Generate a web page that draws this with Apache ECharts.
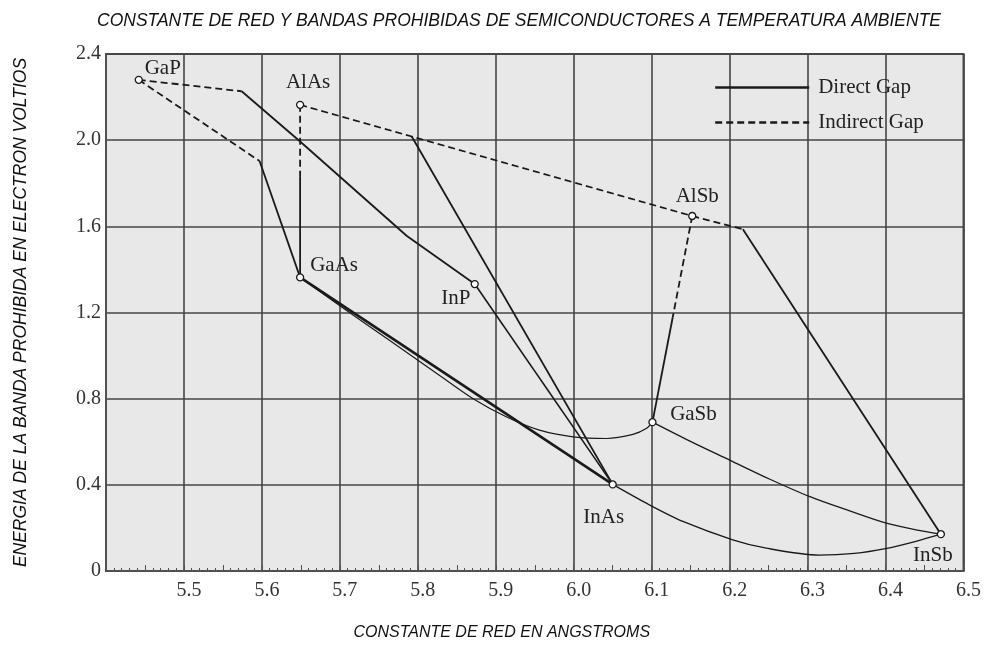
<!DOCTYPE html>
<html>
<head>
<meta charset="utf-8">
<script src="https://cdn.jsdelivr.net/npm/echarts@6/dist/echarts.min.js"></script>
<style>
  html, body { margin: 0; padding: 0; background: #fff; }
  #chart { width: 984px; height: 646px; }
</style>
</head>
<body>
<div id="chart"></div>
<script>
// Binary compounds: lattice constant (Å) and band gap (eV)
const compounds = ['GaP', 'AlAs', 'GaAs', 'InP', 'AlSb', 'GaSb', 'InAs', 'InSb'];
const latticeA  = [5.442, 5.649, 5.649, 5.873, 6.152, 6.101, 6.050, 6.471];
const gapEv     = [2.280, 2.164, 1.363, 1.332, 1.648, 0.691, 0.402, 0.171];

// Ternary alloy paths [lattice, gap]
const gapInP_ind   = [[5.442, 2.280], [5.574, 2.227]];
const gapInP_dir   = [[5.574, 2.227], [5.649, 1.994], [5.786, 1.555], [5.873, 1.332]];
const gapGaAs_ind  = [[5.442, 2.280], [5.597, 1.903]];
const gapGaAs_dir  = [[5.597, 1.903], [5.649, 1.363]];
const alasGaAs_ind = [[5.649, 2.164], [5.649, 1.833]];
const alasGaAs_dir = [[5.649, 1.833], [5.649, 1.363]];
const alasAlSb_ind = [[5.649, 2.164], [6.152, 1.648]];
const alasInAs_dir = [[5.792, 2.018], [6.050, 0.402]];
const alsbInSb_ind = [[6.152, 1.648], [6.217, 1.586]];
const alsbInSb_dir = [[6.217, 1.586], [6.471, 0.171]];
const alsbGaSb_ind = [[6.152, 1.648], [6.127, 1.178]];
const alsbGaSb_dir = [[6.127, 1.178], [6.101, 0.691]];
const gaasInAs_dir = [[5.649, 1.363], [6.050, 0.402]];
const inpInAs_dir  = [[5.873, 1.332], [6.050, 0.402]];
const gaasGaSb_dir = [[5.649, 1.363], [5.700, 1.231], [5.764, 1.070], [5.828, 0.908], [5.871, 0.800],
                      [5.914, 0.715], [5.956, 0.654], [5.999, 0.623], [6.042, 0.615], [6.076, 0.634],
                      [6.093, 0.661], [6.101, 0.691]];
const gasbInSb_dir = [[6.101, 0.691], [6.149, 0.603], [6.200, 0.515], [6.251, 0.427], [6.303, 0.345],
                      [6.354, 0.279], [6.401, 0.222], [6.439, 0.191], [6.471, 0.171]];
const inasInSb_dir = [[6.050, 0.402], [6.097, 0.307], [6.140, 0.230], [6.204, 0.145], [6.247, 0.106],
                      [6.315, 0.074], [6.360, 0.082], [6.400, 0.104], [6.439, 0.138], [6.471, 0.171]];

// Axis ticks
const xTicks = [5.5, 5.6, 5.7, 5.8, 5.9, 6.0, 6.1, 6.2, 6.3, 6.4, 6.5];
const yTicks = [0, 0.4, 0.8, 1.2, 1.6, 2.0, 2.4];

const DIRECT = 'Direct Gap';
const INDIRECT = 'Indirect Gap';
const INK = '#1a1a1a';
const SERIF = 'Liberation Serif, Times New Roman, serif';
const SANS = 'Liberation Sans, Arial, sans-serif';

// label placement around each compound marker (pixels)
const labelOffset = {
  GaP: [24, -11], AlAs: [8, -22], GaAs: [34, -12], InP: [-19, 14],
  AlSb: [5, -20], GaSb: [41, -8], InAs: [-9, 33], InSb: [-8, 21]
};

function path(name, data, width, smooth) {
  const dashed = name === INDIRECT;
  return {
    type: 'line', name: name, data: data, symbol: 'none', smooth: smooth || false,
    silent: true, z: 2,
    itemStyle: { color: INK },
    lineStyle: { color: INK, width: width, type: dashed ? [7, 4] : 'solid' }
  };
}

const series = [
  path(DIRECT, gapInP_dir, 1.8),
  path(INDIRECT, gapInP_ind, 1.8),
  path(INDIRECT, gapGaAs_ind, 1.8),
  path(DIRECT, gapGaAs_dir, 1.8),
  path(INDIRECT, alasGaAs_ind, 1.8),
  path(DIRECT, alasGaAs_dir, 1.8),
  path(INDIRECT, alasAlSb_ind, 1.8),
  path(DIRECT, alasInAs_dir, 1.8),
  path(INDIRECT, alsbInSb_ind, 1.8),
  path(DIRECT, alsbInSb_dir, 1.8),
  path(INDIRECT, alsbGaSb_ind, 1.8),
  path(DIRECT, alsbGaSb_dir, 1.8),
  path(DIRECT, gaasInAs_dir, 2.6),
  path(DIRECT, inpInAs_dir, 1.6),
  path(DIRECT, gaasGaSb_dir, 1.2, 0.3),
  path(DIRECT, gasbInSb_dir, 1.3, 0.3),
  path(DIRECT, inasInSb_dir, 1.3, 0.3),
  {
    type: 'scatter', name: 'compounds', z: 5, silent: true,
    symbol: 'circle', symbolSize: 7,
    itemStyle: { color: '#fff', borderColor: INK, borderWidth: 1.3, opacity: 1 },
    label: {
      show: true, position: 'inside', formatter: p => p.name,
      fontFamily: SERIF, fontSize: 21, color: '#222'
    },
    data: compounds.map((n, i) => ({
      name: n, value: [latticeA[i], gapEv[i]],
      label: { offset: labelOffset[n] }
    }))
  }
];

const chart = echarts.init(document.getElementById('chart'), null, { renderer: 'canvas' });
chart.setOption({
  animation: false,
  backgroundColor: '#fff',
  title: {
    text: 'CONSTANTE DE RED Y BANDAS PROHIBIDAS DE SEMICONDUCTORES A TEMPERATURA AMBIENTE',
    left: 92, top: 7,
    textStyle: { fontFamily: SANS, fontStyle: 'italic', fontWeight: 'normal', fontSize: 17.5, color: '#111' }
  },
  legend: {
    data: [DIRECT, INDIRECT],
    left: 709, top: 72, orient: 'vertical',
    itemWidth: 94, itemHeight: 14, itemGap: 14,
    itemStyle: { opacity: 0 },
    lineStyle: { width: 2.4 },
    textStyle: { fontFamily: SERIF, fontSize: 21, color: '#222', padding: [0, 0, 0, 4] },
    selectedMode: false
  },
  grid: {
    left: 106, right: 20, top: 54, bottom: 73,
    show: true, backgroundColor: '#e8e8e8', borderColor: '#505050', borderWidth: 2
  },
  xAxis: [
    {
      type: 'value', min: 5.4, max: 6.5, interval: 0.1,
      name: 'CONSTANTE DE RED EN ANGSTROMS', nameLocation: 'middle', nameGap: 54,
      nameTextStyle: { fontFamily: SANS, fontStyle: 'italic', fontSize: 16, color: '#111', padding: [0, 66, 0, 0] },
      axisLine: { show: true, lineStyle: { color: '#505050', width: 2 } },
      axisTick: { show: true, inside: true, length: 3, lineStyle: { color: '#505050' } },
      minorTick: { show: true, splitNumber: 10, length: 3, lineStyle: { color: '#505050', width: 1 } },
      splitLine: { show: true, lineStyle: { color: '#444', width: 1.6 } },
      axisLabel: {
        margin: 10, fontFamily: SERIF, fontSize: 20, color: '#333', padding: [0, 0, 0, 10],
        formatter: v => {
          const t = xTicks.find(k => Math.abs(k - v) < 1e-6);
          return t === undefined ? '' : t.toFixed(1);
        }
      }
    },
    {
      type: 'value', min: 5.4, max: 6.5, interval: 0.05, position: 'bottom',
      axisLine: { show: false },
      axisTick: { show: true, inside: true, length: 6, lineStyle: { color: '#505050', width: 1 } },
      axisLabel: { show: false },
      splitLine: { show: false }
    }
  ],
  yAxis: {
    type: 'value', min: 0, max: 2.4, interval: 0.4,
    name: 'ENERGIA DE LA BANDA PROHIBIDA EN ELECTRON VOLTIOS', nameLocation: 'middle', nameGap: 76,
    nameRotate: 90,
    nameTextStyle: { fontFamily: SANS, fontStyle: 'italic', fontSize: 17.5, color: '#111' },
    axisLine: { show: true, lineStyle: { color: '#505050', width: 2 } },
    axisTick: { show: false },
    splitLine: { show: true, lineStyle: { color: '#444', width: 1.6 } },
    axisLabel: {
      margin: 5, fontFamily: SERIF, fontSize: 20, color: '#333',
      formatter: v => {
        const t = yTicks.find(k => Math.abs(k - v) < 1e-6);
        return t === undefined ? '' : (t === 0 ? '0' : t.toFixed(1));
      }
    }
  },
  series: series
});
</script>
</body>
</html>
